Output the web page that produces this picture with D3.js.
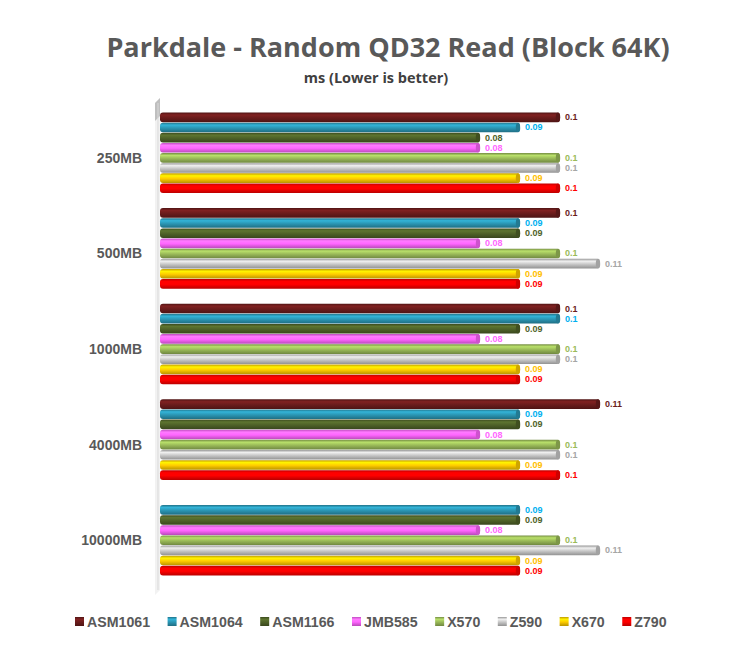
<!DOCTYPE html>
<html>
<head>
<meta charset="utf-8">
<script src="https://d3js.org/d3.v7.min.js"></script>
<style>
    body { margin: 0; background: #fff; }
    text { font-family: "Liberation Sans", Arial, sans-serif; }
</style>
</head>
<body>
<script>
    // Chart data
    var categories = ["250MB", "500MB", "1000MB", "4000MB", "10000MB"];
    var series = ["ASM1061", "ASM1064", "ASM1166", "JMB585", "X570", "Z590", "X670", "Z790"];
    var barColors = ["#6b1c1c", "#2b97b5", "#4f6228", "#ff66ff", "#9bbb59", "#c9c9c9", "#ffcc00", "#ff0000"];
    var labelColors = ["#6b1c1c", "#00b0f0", "#4f6228", "#ff66ff", "#9bbb59", "#a6a6a6", "#ffc000", "#ff0000"];
    // one array per series, in category order (null = no result)
    var ASM1061 = [0.10, 0.10, 0.10, 0.11, null];
    var ASM1064 = [0.09, 0.09, 0.10, 0.09, 0.09];
    var ASM1166 = [0.08, 0.09, 0.09, 0.09, 0.09];
    var JMB585  = [0.08, 0.08, 0.08, 0.08, 0.08];
    var X570    = [0.10, 0.10, 0.10, 0.10, 0.10];
    var Z590    = [0.10, 0.11, 0.10, 0.10, 0.11];
    var X670    = [0.09, 0.09, 0.09, 0.09, 0.09];
    var Z790    = [0.10, 0.09, 0.09, 0.10, 0.09];
    var values = [ASM1061, ASM1064, ASM1166, JMB585, X570, Z590, X670, Z790];

    var width = 733, height = 648;
    var svg = d3.select("body").append("svg")
        .attr("width", width)
        .attr("height", height);

    var defs = svg.append("defs");
    // cylinder-like shading for each series
    barColors.forEach(function (c, i) {
        var g = defs.append("linearGradient")
            .attr("id", "grad" + i)
            .attr("x1", 0).attr("y1", 0).attr("x2", 0).attr("y2", 1);
        var col = d3.color(c);
        g.append("stop").attr("offset", "0%").attr("stop-color", col.darker(0.8));
        g.append("stop").attr("offset", "25%").attr("stop-color", col.brighter(0.5));
        g.append("stop").attr("offset", "55%").attr("stop-color", col);
        g.append("stop").attr("offset", "100%").attr("stop-color", col.darker(0.9));
    });

    // Title
    svg.append("text")
        .attr("x", 388).attr("y", 57)
        .attr("text-anchor", "middle")
        .style("font-family", "'Open Sans', sans-serif")
        .style("font-weight", "bold")
        .style("font-size", "27px")
        .style("fill", "#595959")
        .text("Parkdale - Random QD32 Read (Block 64K)");

    svg.append("text")
        .attr("x", 376).attr("y", 83)
        .attr("text-anchor", "middle")
        .style("font-family", "'Open Sans', sans-serif")
        .style("font-weight", "bold")
        .style("font-size", "14.5px")
        .style("fill", "#404040")
        .text("ms (Lower is better)");

    // Scales
    var x = d3.scaleLinear().domain([0, 0.11]).range([160, 600]);
    var y = d3.scaleBand().domain(categories).range([105, 583]);
    var yInner = d3.scaleBand().domain(series)
        .range([7.5, y.bandwidth() - 7.5])
        .paddingInner(0.05);

    // Axis wall / line
    svg.append("path")
        .attr("d", "M155,103 L160,98 L160,590 L155,595 Z")
        .style("fill", "#f2f2f2");
    svg.append("path")
        .attr("d", "M155,103 L160,98 L160,116 L155,121 Z")
        .style("fill", "#bfbfbf");
    svg.append("line")
        .attr("x1", 158).attr("x2", 158)
        .attr("y1", 103).attr("y2", 590)
        .style("stroke", "#d9d9d9")
        .style("stroke-width", 1);

    // Category labels
    svg.selectAll("text.cat")
        .data(categories)
        .enter().append("text")
        .attr("class", "cat")
        .attr("x", 142)
        .attr("y", function (d) { return y(d) + y.bandwidth() / 2 + 10; })
        .attr("text-anchor", "end")
        .style("font-weight", "bold")
        .style("font-size", "14px")
        .style("fill", "#595959")
        .text(function (d) { return d; });

    // Bars
    var rows = [];
    categories.forEach(function (c, ci) {
        series.forEach(function (s, si) {
            var v = values[si][ci];
            if (v != null) rows.push({ cat: c, s: s, si: si, v: v });
        });
    });

    var bar = svg.selectAll("g.bar")
        .data(rows)
        .enter().append("g")
        .attr("class", "bar")
        .attr("transform", function (d) {
            return "translate(0," + (y(d.cat) + yInner(d.s)) + ")";
        });

    var bh = yInner.bandwidth();

    bar.append("rect")
        .attr("x", x(0))
        .attr("y", 0)
        .attr("width", function (d) { return x(d.v) - x(0); })
        .attr("height", bh)
        .attr("rx", 3)
        .style("fill", function (d) { return "url(#grad" + d.si + ")"; });

    // end cap
    bar.append("ellipse")
        .attr("cx", function (d) { return x(d.v) - 2; })
        .attr("cy", bh / 2)
        .attr("rx", 2.2)
        .attr("ry", bh / 2)
        .style("fill", function (d) { return d3.color(barColors[d.si]).darker(0.6); });

    // value labels
    bar.append("text")
        .attr("x", function (d) { return x(d.v) + 5; })
        .attr("y", bh / 2 + 3)
        .style("font-weight", "bold")
        .style("font-size", "9px")
        .style("fill", function (d) { return labelColors[d.si]; })
        .text(function (d) { return d.v === 0.1 ? "0.1" : d3.format(".2f")(d.v).replace(/0$/, ""); });

    // Legend
    var legend = svg.append("g").attr("transform", "translate(0,622)");
    var lx = 75;
    series.forEach(function (s, i) {
        var item = legend.append("g").attr("transform", "translate(" + lx + ",0)");
        item.append("rect")
            .attr("x", 0).attr("y", -5)
            .attr("width", 9).attr("height", 9)
            .style("fill", "url(#grad" + i + ")");
        var t = item.append("text")
            .attr("x", 12).attr("y", 5)
            .style("font-weight", "bold")
            .style("font-size", "14.2px")
            .style("fill", "#595959")
            .text(s);
        lx += 12 + t.node().getComputedTextLength() + 17.5;
    });
</script>
</body>
</html>
